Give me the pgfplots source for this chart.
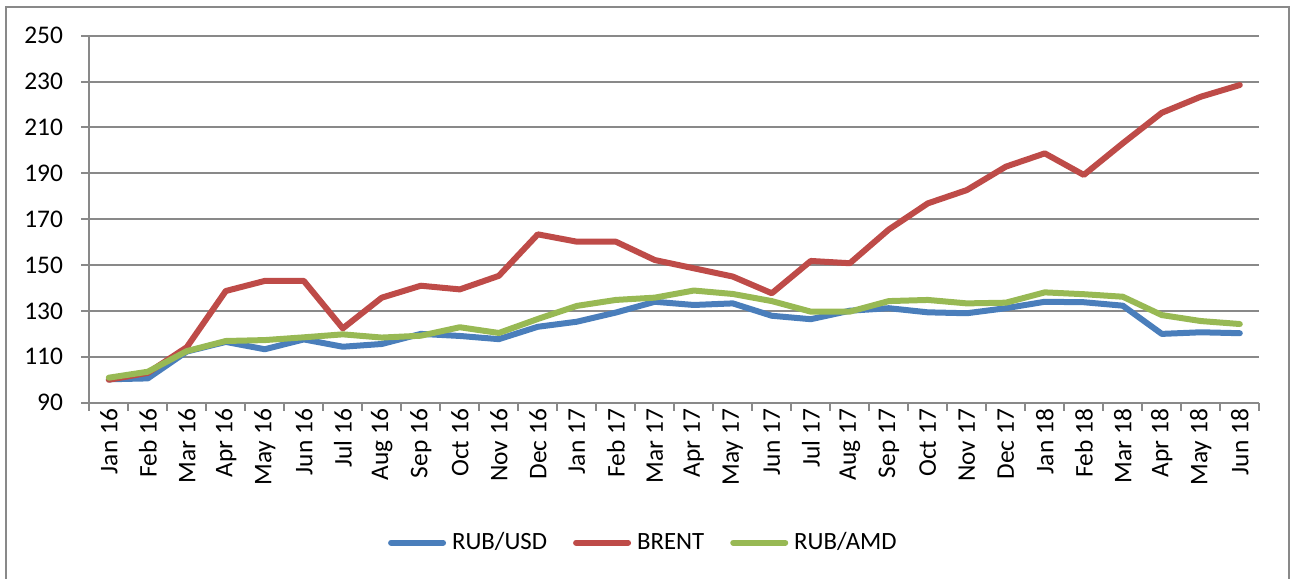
\documentclass[border=0pt]{standalone}
\usepackage{pgfplots}
\pgfplotsset{compat=1.18}
\usepackage{fontspec}
\setmainfont{Carlito}
\definecolor{cblue}{HTML}{4A7EBB}
\definecolor{cred}{HTML}{BE4B48}
\definecolor{cgreen}{HTML}{98B954}
\definecolor{cgrid}{HTML}{898989}
\newcommand{\lfont}{\fontsize{12.7bp}{15bp}\selectfont}
\newcommand{\gfont}{\fontsize{12.4bp}{15bp}\selectfont}
\begin{document}
\begin{tikzpicture}
\path[use as bounding box] (-44.65bp,-88.15bp) rectangle (601.85bp,201.35bp);
\draw[cgrid, line width=1bp] (-41.4bp,-95bp) -- (-41.4bp,198bp) -- (599.7bp,198bp) -- (599.7bp,-95bp);
\begin{axis}[
  scale only axis,
  width=585bp, height=183.5bp,
  xmin=-0.5, xmax=29.5,
  ymin=90, ymax=250,
  ytick={90,110,...,250},
  xtick={0,...,29},
  xticklabels={Jan 16,Feb 16,Mar 16,Apr 16,May 16,Jun 16,Jul 16,Aug 16,Sep 16,Oct 16,Nov 16,Dec 16,Jan 17,Feb 17,Mar 17,Apr 17,May 17,Jun 17,Jul 17,Aug 17,Sep 17,Oct 17,Nov 17,Dec 17,Jan 18,Feb 18,Mar 18,Apr 18,May 18,Jun 18},
  minor xtick={-0.5,0.5,...,29.5},
  major x tick style={draw=none},
  x tick style={cgrid, line width=1bp},
  y tick style={cgrid, line width=1bp},
  major tick length=4bp,
  minor tick length=4bp,
  tick align=outside,
  xtick pos=bottom, ytick pos=left,
  ymajorgrids,
  major grid style={cgrid, line width=1bp},
  axis line style={cgrid, line width=1bp},
  axis x line*=bottom,
  axis y line*=left,
  separate axis lines,
  every x tick label/.style={font=\lfont, yshift=1bp, rotate=90, anchor=east, inner sep=0pt},
  every y tick label/.style={font=\lfont, anchor=east, inner sep=0pt, xshift=-9bp},
  /pgf/number format/assume math mode=true,
  legend style={draw=none, font=\gfont, at={(0.4727,-0.3815)}, anchor=center,
    legend columns=-1, inner sep=0pt,
    /tikz/every even column/.append style={column sep=13bp},
    nodes={inner sep=0pt}},
  legend image code/.code={\draw[#1, line width=3bp, line cap=round] (0bp,0bp) -- (26bp,0bp);},
  legend cell align=left,
  /tikz/every odd column/.append style={column sep=3bp},
  clip=false,
]
\addplot[cblue, line width=3bp, line join=round, line cap=round] coordinates {
(0,100.2) (1,100.6) (2,112.3) (3,116.5) (4,113.3) (5,117.6) (6,114.4) (7,115.6) (8,120.0) (9,119.1)
(10,117.7) (11,123.1) (12,125.3) (13,129.3) (14,134.0) (15,132.6) (16,133.3) (17,127.9) (18,126.4) (19,130.1)
(20,131.2) (21,129.4) (22,129.0) (23,131.2) (24,134.0) (25,133.8) (26,132.3) (27,120.0) (28,120.7) (29,120.3)};
\addlegendentry{RUB/USD}
\addplot[cred, line width=3bp, line join=round, line cap=round] coordinates {
(0,100.0) (1,103.0) (2,114.2) (3,138.7) (4,143.1) (5,143.1) (6,122.4) (7,135.8) (8,141.0) (9,139.4)
(10,145.3) (11,163.4) (12,160.2) (13,160.2) (14,152.2) (15,148.6) (16,145.0) (17,137.7) (18,151.8) (19,150.8)
(20,165.5) (21,176.9) (22,182.7) (23,192.9) (24,198.7) (25,189.3) (26,203.1) (27,216.4) (28,223.4) (29,228.5)};
\addlegendentry{BRENT}
\addplot[cgreen, line width=3bp, line join=round, line cap=round] coordinates {
(0,100.9) (1,103.5) (2,112.5) (3,116.9) (4,117.3) (5,118.5) (6,119.8) (7,118.4) (8,119.2) (9,122.9)
(10,120.4) (11,126.5) (12,132.2) (13,134.8) (14,135.8) (15,138.9) (16,137.4) (17,134.3) (18,129.7) (19,129.7)
(20,134.3) (21,134.8) (22,133.3) (23,133.6) (24,138.1) (25,137.3) (26,136.2) (27,128.2) (28,125.6) (29,124.3)};
\addlegendentry{RUB/AMD}
\end{axis}
\end{tikzpicture}
\end{document}
